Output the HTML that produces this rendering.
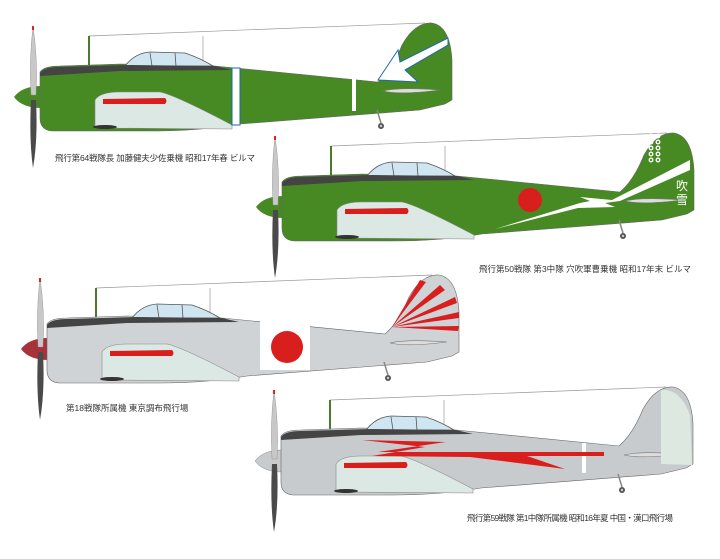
<!DOCTYPE html><html><head><meta charset="utf-8"><style>body{margin:0;background:#fff}svg{display:block}text{font-family:"Liberation Sans","Noto Sans CJK JP",sans-serif;font-size:8.5px;fill:#333}</style></head><body>
<svg width="720" height="559" viewBox="0 0 720 559" xmlns="http://www.w3.org/2000/svg">
<defs>
<path id="sp" d="M42,86 Q22,86 14,97 Q22,108 42,108 Z"/>
<g id="pl">
<line x1="89" y1="36" x2="425" y2="23" stroke="#999" stroke-width="0.7"/>
<line x1="203" y1="36" x2="203" y2="64" stroke="#999" stroke-width="0.7"/>
<line x1="89" y1="36" x2="89" y2="66" stroke="#4a7a2a" stroke-width="2"/>
<path d="M40,72 Q44,66 60,66 L120,64 L215,66 L378,82 Q392,70 402,45 Q415,22 432,23 Q450,26 452,60 L452,100 L445,104 L420,110 L240,124 Q200,131 150,131 L52,131 Q40,130 40,118 Z" stroke="#666" stroke-width="0.6"/>
<path d="M125,66 Q135,53 150,52 L185,53 Q200,58 213,66 Z" fill="#cfe6f2" stroke="#555" stroke-width="0.8"/>
<line x1="150" y1="53" x2="152" y2="66" stroke="#555" stroke-width="0.8"/><line x1="175" y1="53" x2="176" y2="66" stroke="#555" stroke-width="0.8"/>
<path d="M40,73 Q44,67 60,67 L130,65 L215,66 L232,70 L120,71 L40,76 Z" fill="#444"/>
<path d="M95,128 L95,100 Q100,92 120,92 L160,92 Q175,95 232,125 L232,129 Z" fill="#dce8e4" stroke="#888" stroke-width="0.6"/>
<path d="M103,99 L165,98 Q168,101 165,104 L103,104 Z" fill="#d91e1e"/>
<path d="M383,91 Q400,87 440,90 Q400,95 383,91 Z" fill="#ddd" stroke="#777" stroke-width="0.6"/>
<ellipse cx="105" cy="127" rx="12" ry="2" fill="#333"/>
<line x1="377" y1="110" x2="381" y2="123" stroke="#888" stroke-width="1.5"/>
<circle cx="381" cy="126" r="3" fill="#555"/><circle cx="381" cy="126" r="1.2" fill="#ccc"/>
<path d="M33,26 Q38,60 36,95 L31,95 Q29,60 33,26 Z" fill="#c8c8c8" stroke="#888" stroke-width="0.4"/>
<path d="M31,100 L36,100 Q38,140 33,168 Q29,140 31,100 Z" fill="#4a4a4a"/>
<rect x="32" y="26" width="2" height="4" fill="#d22"/>
</g>
</defs>
<!-- plane 1 -->
<use href="#sp" fill="#478a24"/>
<use href="#pl" fill="#478a24"/>
<rect x="232" y="68" width="8" height="57" fill="#fff" stroke="#1a6ab5" stroke-width="1"/>
<rect x="352" y="78" width="4" height="33" fill="#fff"/>
<path d="M398,50 L378,80 L418,82 L405,70 L448,45 L448,38 L400,62 Z" fill="#fff" stroke="#1a6ab5" stroke-width="1"/>
<text x="55" y="161" textLength="200">飛行第64戦隊長 加藤健夫少佐乗機 昭和17年春 ビルマ</text>
<!-- plane 2 -->
<use href="#sp" fill="#478a24" transform="translate(242,110)"/>
<use href="#pl" fill="#478a24" transform="translate(242,110)"/>
<circle cx="530" cy="200" r="12" fill="#d91e1e"/>
<polygon points="495,229 580,203 590,201 580,197 612,200 690,160 690,170 620,201 605,203 615,207 578,208" fill="#fff"/>
<g fill="none" stroke="#fff" stroke-width="1.3"><circle cx="651" cy="136" r="1.8"/><circle cx="658" cy="136" r="1.8"/><circle cx="651" cy="142" r="1.8"/><circle cx="658" cy="142" r="1.8"/><circle cx="651" cy="148" r="1.8"/><circle cx="658" cy="148" r="1.8"/><circle cx="651" cy="154" r="1.8"/><circle cx="658" cy="154" r="1.8"/><circle cx="651" cy="160" r="1.8"/><circle cx="658" cy="160" r="1.8"/></g>
<text x="676" y="190" style="font-size:12px;fill:#fff">吹</text><text x="676" y="204" style="font-size:12px;fill:#fff">雪</text>
<text x="479" y="272" textLength="212">飛行第50戦隊 第3中隊 穴吹軍曹乗機 昭和17年末 ビルマ</text>
<!-- plane 3 -->
<use href="#sp" fill="#a8323a" transform="translate(7,252)"/>
<use href="#pl" fill="#d0d3d6" transform="translate(7,252)"/>
<rect x="260" y="320" width="50" height="50" fill="#fff"/>
<circle cx="287" cy="347" r="16" fill="#d91e1e"/>
<g fill="#d91e1e"><path d="M392,327 L440,285 L445,290 Z"/><path d="M392,327 L455,297 L457,303 Z"/><path d="M392,327 L459,312 L459,318 Z"/><path d="M392,327 L420,280 L426,282 Z"/><path d="M392,327 L459,326 L458,331 Z"/></g>
<text x="66" y="411">第18戦隊所属機 東京調布飛行場</text>
<!-- plane 4 -->
<use href="#sp" fill="#c8cbce" stroke="#888" stroke-width="0.5" transform="translate(241,364)"/>
<use href="#pl" fill="#c8cbce" transform="translate(241,364)"/>
<path d="M661,390 Q680,388 690,415 L692,465 L661,464 Z" fill="#dde8e0"/>
<rect x="582" y="443" width="4" height="30" fill="#fff"/>
<polygon points="362,440 446,442 378,452 604,452 604,456 527,456 565,469 470,457 372,456 425,447" fill="#d91e1e"/>
<text x="467" y="521" textLength="206">飛行第59戦隊 第1中隊所属機 昭和16年夏 中国・漢口飛行場</text>
</svg>
</body></html>
